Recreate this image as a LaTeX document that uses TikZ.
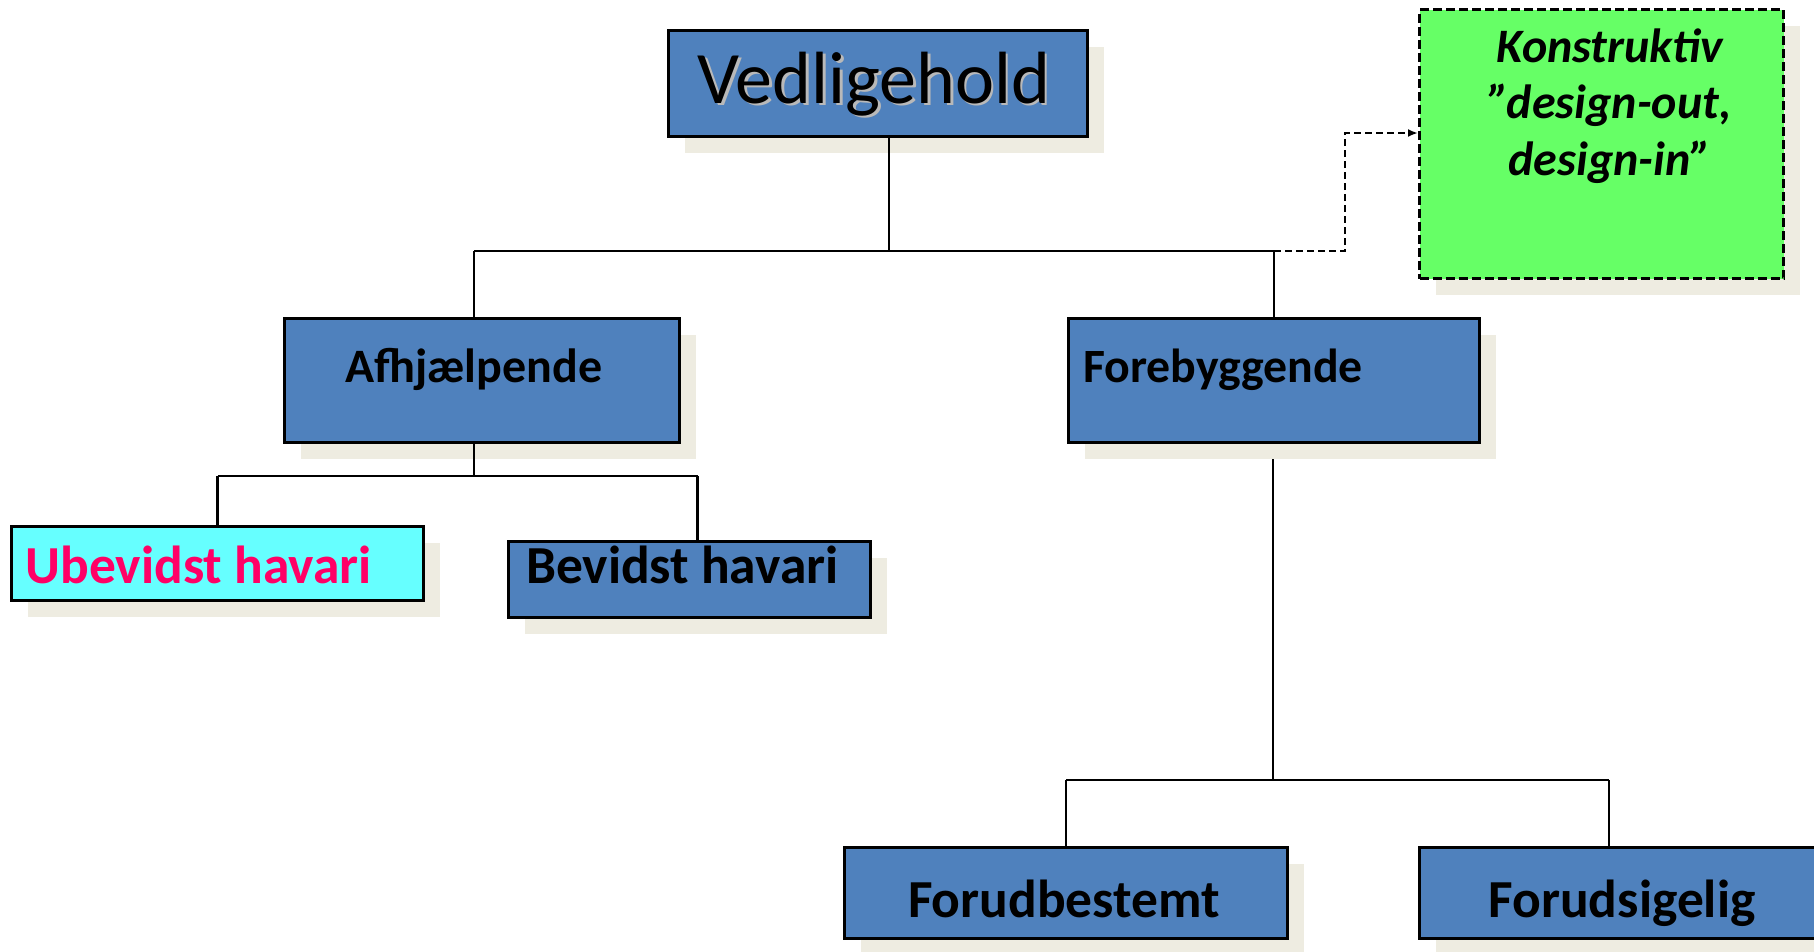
\documentclass[tikz,border=0pt]{standalone}
\usepackage{fontspec}
\setmainfont{Carlito}
\usetikzlibrary{shadows,arrows.meta}
\definecolor{boxblue}{HTML}{4F81BD}
\definecolor{shadowtan}{HTML}{EEECE1}
\definecolor{kgreen}{HTML}{66FF66}
\definecolor{ucyan}{HTML}{66FFFF}
\definecolor{upink}{HTML}{FF0066}
\pgfdeclarelayer{bg}
\pgfsetlayers{bg,main}
\tikzset{
  boxshadow/.style={general shadow={shadow xshift=16pt, shadow yshift=-16pt, fill=shadowtan, draw=none}},
  box/.style={rectangle, draw=black, line width=3pt, fill=boxblue, inner sep=0pt, boxshadow},
  conn/.style={draw=black, line width=2.5pt},
  dconn/.style={draw=black, line width=2.5pt, dash pattern=on 7pt off 4pt, -{Latex[length=10pt,width=8pt]}},
  lbl/.style={inner sep=0pt, outer sep=0pt},
}
\begin{document}
\begin{tikzpicture}[x=1pt, y=-1pt]
\useasboundingbox (0,0) rectangle (1814,951);
\clip (0,0) rectangle (1814,951);

% boxes
\node[box, minimum width=419pt, minimum height=106pt] (ved) at (878,83.5) {};
\node[box, fill=kgreen, dash pattern=on 9pt off 4pt, minimum width=364pt, minimum height=269pt] (kons) at (1601.5,144) {};
\node[box, minimum width=395pt, minimum height=124pt] (afh) at (482,380.5) {};
\node[box, minimum width=411pt, minimum height=124pt] (fore) at (1274,380.5) {};
\node[box, fill=ucyan, minimum width=412pt, minimum height=74pt] (ubev) at (217.5,563.5) {};
\node[box, minimum width=362pt, minimum height=76pt] (bev) at (689.5,579.5) {};
\node[box, minimum width=443pt, minimum height=91pt] (fbest) at (1066,893) {};
\node[box, minimum width=401pt, minimum height=91pt] (fsig) at (1620,893) {};

% texts
\node[lbl, anchor=base, text=gray!55, font=\fontsize{74}{88}\selectfont] (vedsh) at (876.5,105.5) {Vedligehold};
\node[lbl, anchor=base, font=\fontsize{74}{88}\selectfont] (vedt) at (874,103) {Vedligehold};
\node[lbl, anchor=base, font=\fontsize{48}{58}\selectfont\bfseries\itshape] (k1) at (1610,62) {Konstruktiv};
\node[lbl, anchor=base, font=\fontsize{48}{58}\selectfont\bfseries\itshape] (k2) at (1610,118) {”design-out,};
\node[lbl, anchor=base, font=\fontsize{48}{58}\selectfont\bfseries\itshape] (k3) at (1610,175) {design-in”};
\node[lbl, anchor=base, font=\fontsize{48}{58}\selectfont\bfseries] (afht) at (474,382) {Afhjælpende};
\node[lbl, anchor=base west, font=\fontsize{47.8}{57}\selectfont\bfseries] (foret) at (1083,382) {Forebyggende};
\node[lbl, anchor=base west, text=upink, font=\fontsize{53.5}{64}\selectfont\bfseries] (ubevt) at (25.5,583) {Ubevidst havari};
\node[lbl, anchor=base west, font=\fontsize{53.5}{64}\selectfont\bfseries] (bevt) at (526,583) {Bevidst havari};
\node[lbl, anchor=base, font=\fontsize{53.5}{64}\selectfont\bfseries] (fbestt) at (1064,917) {Forudbestemt};
\node[lbl, anchor=base, font=\fontsize{53.5}{64}\selectfont\bfseries] (fsigt) at (1622,917) {Forudsigelig};

% bus coordinates
\coordinate (b0l) at (474,251);
\coordinate (b0m) at (889,251);
\coordinate (b0r) at (1274,251);
\coordinate (dk) at (1345,133);
\coordinate (b1l) at (217.5,476);
\coordinate (b1m) at (474,476);
\coordinate (b1r) at (697.6,476);
\coordinate (b2l) at (1066,780);
\coordinate (b2m) at (1273,780);
\coordinate (b2r) at (1609,780);

% connectors
\draw[conn] (ved.south -| b0m) -- (b0m);
\draw[conn] (b0l) -- (b0r);
\draw[conn] (b0l) -- (afh.north -| b0l);
\draw[conn] (b0r) -- (fore.north -| b0r);
\draw[dconn] (b0r) -| (dk) -- (kons.west |- dk);
\draw[conn] (afh.south -| b1m) -- (b1m);
\draw[conn] (b1l) -- (b1r);
\draw[conn] (b1l) -- (ubev.north -| b1l);
\draw[conn] (b1r) -- (bev.north -| b1r);
\begin{pgfonlayer}{bg}
\draw[conn] (fore.south -| b2m) -- (b2m);
\end{pgfonlayer}
\draw[conn] (b2l) -- (b2r);
\draw[conn] (b2l) -- (fbest.north -| b2l);
\draw[conn] (b2r) -- (fsig.north -| b2r);
\end{tikzpicture}
\end{document}
